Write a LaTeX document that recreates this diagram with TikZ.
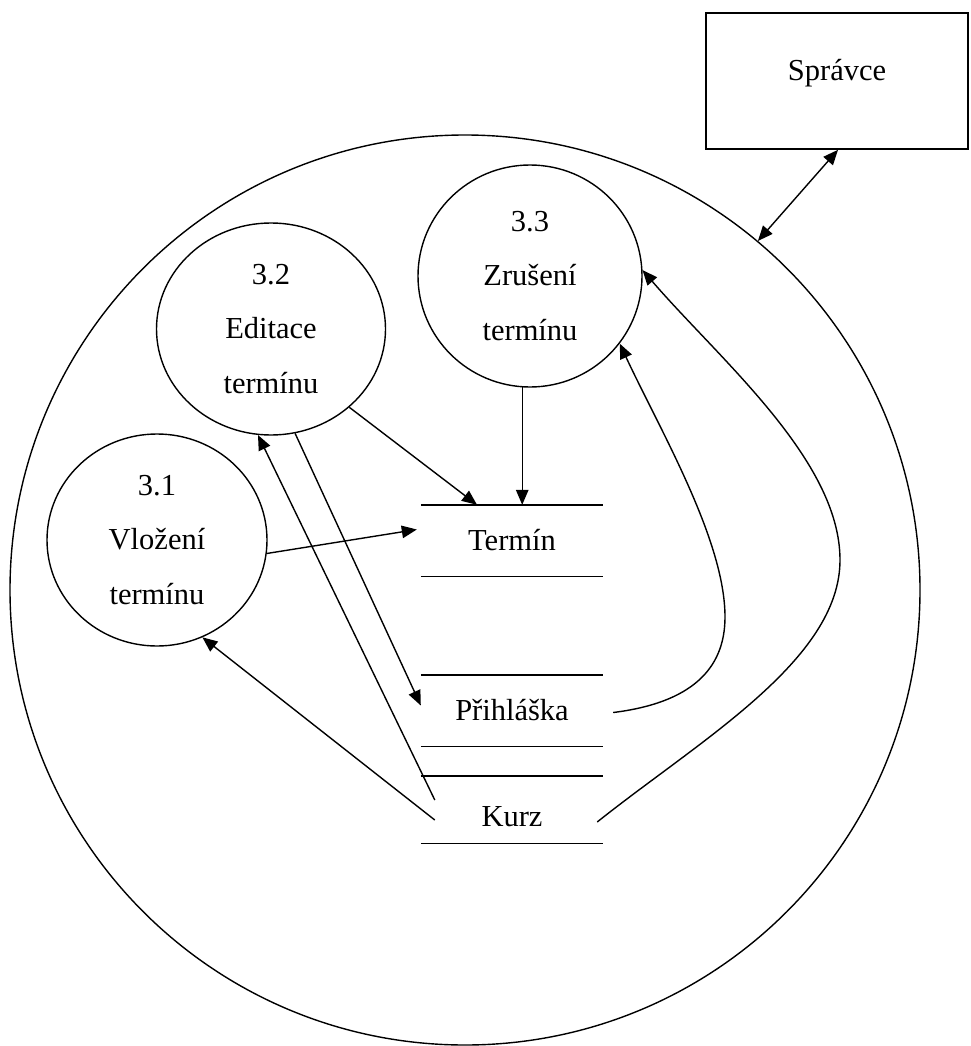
\documentclass[tikz,border=0pt]{standalone}
\usepackage{fontspec}
\setmainfont{Liberation Serif}
\usetikzlibrary{arrows.meta,shapes.geometric}
\begin{document}
\begin{tikzpicture}[x=1pt,y=-1pt,
  every node/.style={font=\fontsize{30.5}{54.5}\selectfont},
  proc/.style={draw, ellipse, inner sep=0pt, align=center, line width=1.4pt},
  store/.style={minimum width=182pt, minimum height=71pt, inner sep=0pt},
  storeline/.style={line width=1.4pt},
  flow/.style={line width=1.4pt, -{Triangle[length=15pt,width=12.5pt]}},
  biflow/.style={line width=1.4pt, {Triangle[length=15pt,width=12.5pt]}-{Triangle[length=15pt,width=12.5pt]}}
]
\useasboundingbox (0,0) rectangle (970,1046);

\node[draw, circle, minimum size=910pt, inner sep=0pt, line width=1.4pt] (big) at (465,590) {};
\node[draw, rectangle, minimum width=262pt, minimum height=136pt, line width=1.6pt, text depth=22pt] (spravce) at (837,81) {Správce};

\node[proc, minimum width=220pt, minimum height=212pt] (e31) at (157,540) {3.1\\Vložení\\termínu};
\node[proc, minimum width=229pt, minimum height=212pt] (e32) at (271,329) {3.2\\Editace\\termínu};
\node[proc, minimum width=224pt, minimum height=222pt] (e33) at (530,276) {3.3\\Zrušení\\termínu};

\node[store] (termin) at (512,540.5) {Termín};
\node[store] (prihl) at (512,710.5) {Přihláška};
\node[store, minimum height=67pt, text height=35pt] (kurz) at (512,809.5) {Kurz};

\foreach \s in {termin,prihl,kurz}{
  \draw[storeline] (\s.north west) -- (\s.north east);
  \draw[storeline] (\s.south west) -- (\s.south east);
}

\draw[flow] (e31.-7) -- ([xshift=-4pt,yshift=11pt]termin.west);
\draw[flow] ([xshift=14pt,yshift=-10.5pt]kurz.west) -- (e31.-65);
\draw[flow] ([xshift=14pt,yshift=9.5pt]kurz.west) -- (e32.-97);
\draw[flow] (e32.-77) -- ([yshift=5pt]prihl.west);
\draw[flow] (e32.-45) -- ([xshift=-35pt]termin.north);
\draw[flow] (e33.-94) -- (e33.-94 |- termin.north);
\draw[flow] ([xshift=10pt,yshift=-2pt]prihl.east) .. controls (690,703) and (725,670) .. (725,617) .. controls (725,540) and (660,430) .. (e33.-37);
\draw[flow] ([xshift=-6pt,yshift=-12.5pt]kurz.east) .. controls (700,740) and (840,660) .. (840,560) .. controls (840,460) and (720,360) .. (e33.3);
\draw[biflow] (big.50) -- ([xshift=1pt]spravce.south);
\end{tikzpicture}
\end{document}
